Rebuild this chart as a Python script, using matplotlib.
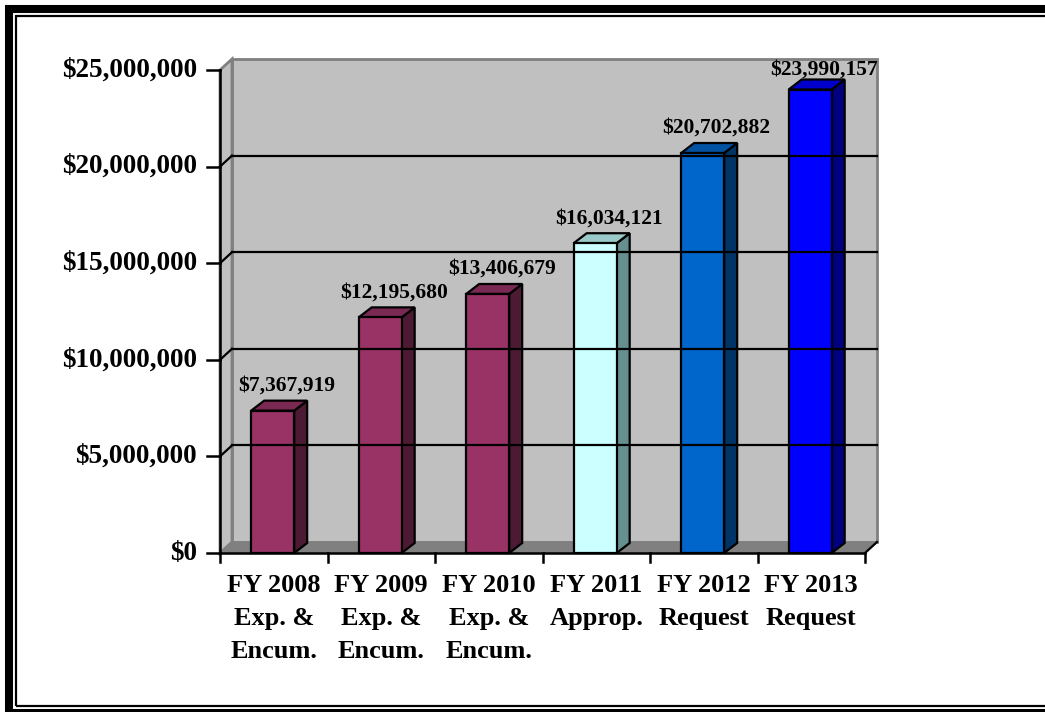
import matplotlib
matplotlib.use("Agg")
import matplotlib.pyplot as plt
from matplotlib.patches import Polygon, Rectangle

categories = ["FY 2008\nExp. &\nEncum.", "FY 2009\nExp. &\nEncum.", "FY 2010\nExp. &\nEncum.",
              "FY 2011\nApprop.", "FY 2012\nRequest", "FY 2013\nRequest"]
values = [7367919, 12195680, 13406679, 16034121, 20702882, 23990157]
yticks = [0, 5000000, 10000000, 15000000, 20000000, 25000000]

front_colors = ["#993366", "#993366", "#993366", "#CCFFFF", "#0066CC", "#0000FF"]
side_colors = ["#4D1A33", "#4D1A33", "#4D1A33", "#668F8F", "#003366", "#000080"]
top_colors = ["#7A2952", "#7A2952", "#7A2952", "#99C9C9", "#0052A3", "#0000CC"]

W, H = 1045, 712
fig = plt.figure(figsize=(W / 100, H / 100), dpi=100)
fig.patch.set_facecolor("white")

# front plane of the chart, in pixels of the image
left, right, top, base = 220, 865, 70, 553
ax = fig.add_axes([left / W, (H - base) / H, (right - left) / W, (base - top) / H])
n = len(categories)
ymax = 25000000
ax.set_xlim(0, n)
ax.set_ylim(0, ymax)
ax.axis("off")

# pixel -> data helpers
px = n / (right - left)
py = ymax / (base - top)
wdx, wdy = 12 * px, 11 * py     # depth of walls
bdx, bdy = 13 * px, 10 * py     # depth of bars

wall = "#C0C0C0"
edge = "#808080"
font = "Liberation Serif"

# back wall, left wall, floor
ax.add_patch(Polygon([(wdx, wdy), (n + wdx, wdy), (n + wdx, ymax + wdy), (wdx, ymax + wdy)],
                     closed=True, facecolor=wall, edgecolor=edge, lw=2, clip_on=False))
ax.add_patch(Polygon([(0, 0), (wdx, wdy), (wdx, ymax + wdy), (0, ymax)],
                     closed=True, facecolor=wall, edgecolor=edge, lw=2, clip_on=False))
ax.add_patch(Polygon([(0, 0), (n, 0), (n + wdx, wdy), (wdx, wdy)],
                     closed=True, facecolor=edge, edgecolor=edge, lw=1, clip_on=False))

# gridlines on the walls
for v in yticks[1:-1]:
    ax.plot([wdx, n + wdx], [v + wdy, v + wdy], color="black", lw=1.6, clip_on=False)
    ax.plot([0, wdx], [v, v + wdy], color="black", lw=1.6, clip_on=False)

# bars
bw = 0.40
for i, v in enumerate(values):
    x0 = i + 0.29
    x1 = x0 + bw
    ax.add_patch(Polygon([(x1, 0), (x1 + bdx, bdy), (x1 + bdx, v + bdy), (x1, v)], closed=True,
                         facecolor=side_colors[i], edgecolor="black", lw=1.6, clip_on=False))
    ax.add_patch(Polygon([(x0, v), (x1, v), (x1 + bdx, v + bdy), (x0 + bdx, v + bdy)], closed=True,
                         facecolor=top_colors[i], edgecolor="black", lw=1.6, clip_on=False))
    ax.add_patch(Rectangle((x0, 0), bw, v, facecolor=front_colors[i],
                           edgecolor="black", lw=1.6, clip_on=False))
    # labels near the top of the wall get squeezed down a little
    lift = min(25 * py, ymax - v)
    ax.text(x0 + bw / 2 + 14 * px, v + lift, f"${v:,.0f}", ha="center", va="center",
            fontsize=15.5, fontweight="bold", family=font)

# axes lines and ticks
ax.plot([0, 0], [0, ymax], color="black", lw=1.8, clip_on=False)
ax.plot([0, n], [0, 0], color="black", lw=1.8, clip_on=False)
ax.plot([n, n + wdx], [0, wdy], color="black", lw=1.6, clip_on=False)
for v in yticks:
    ax.plot([-13 * px, 0], [v, v], color="black", lw=1.8, clip_on=False)
    ax.text(-23 * px, v, f"${v:,.0f}", ha="right", va="center",
            fontsize=19.5, fontweight="bold", family=font)
for i in range(n + 1):
    ax.plot([i, i], [0, -9 * py], color="black", lw=1.8, clip_on=False)
for i, lab in enumerate(categories):
    ax.text(i + 0.5, -21 * py, lab, ha="center", va="top", linespacing=1.55,
            fontsize=19, fontweight="bold", family=font)

# double frame around the picture
def frame(x0, y0, x1, y1, lw):
    fig.add_artist(Rectangle((x0 / W, (H - y1) / H), (x1 - x0) / W, (y1 - y0) / H,
                             transform=fig.transFigure, fill=False, edgecolor="black",
                             lw=lw, joinstyle="miter", clip_on=False))

frame(9, 9, 1070, 713, 5.8)
frame(16, 16, 1070, 706, 1.6)

fig.savefig("out.png", dpi=100)
